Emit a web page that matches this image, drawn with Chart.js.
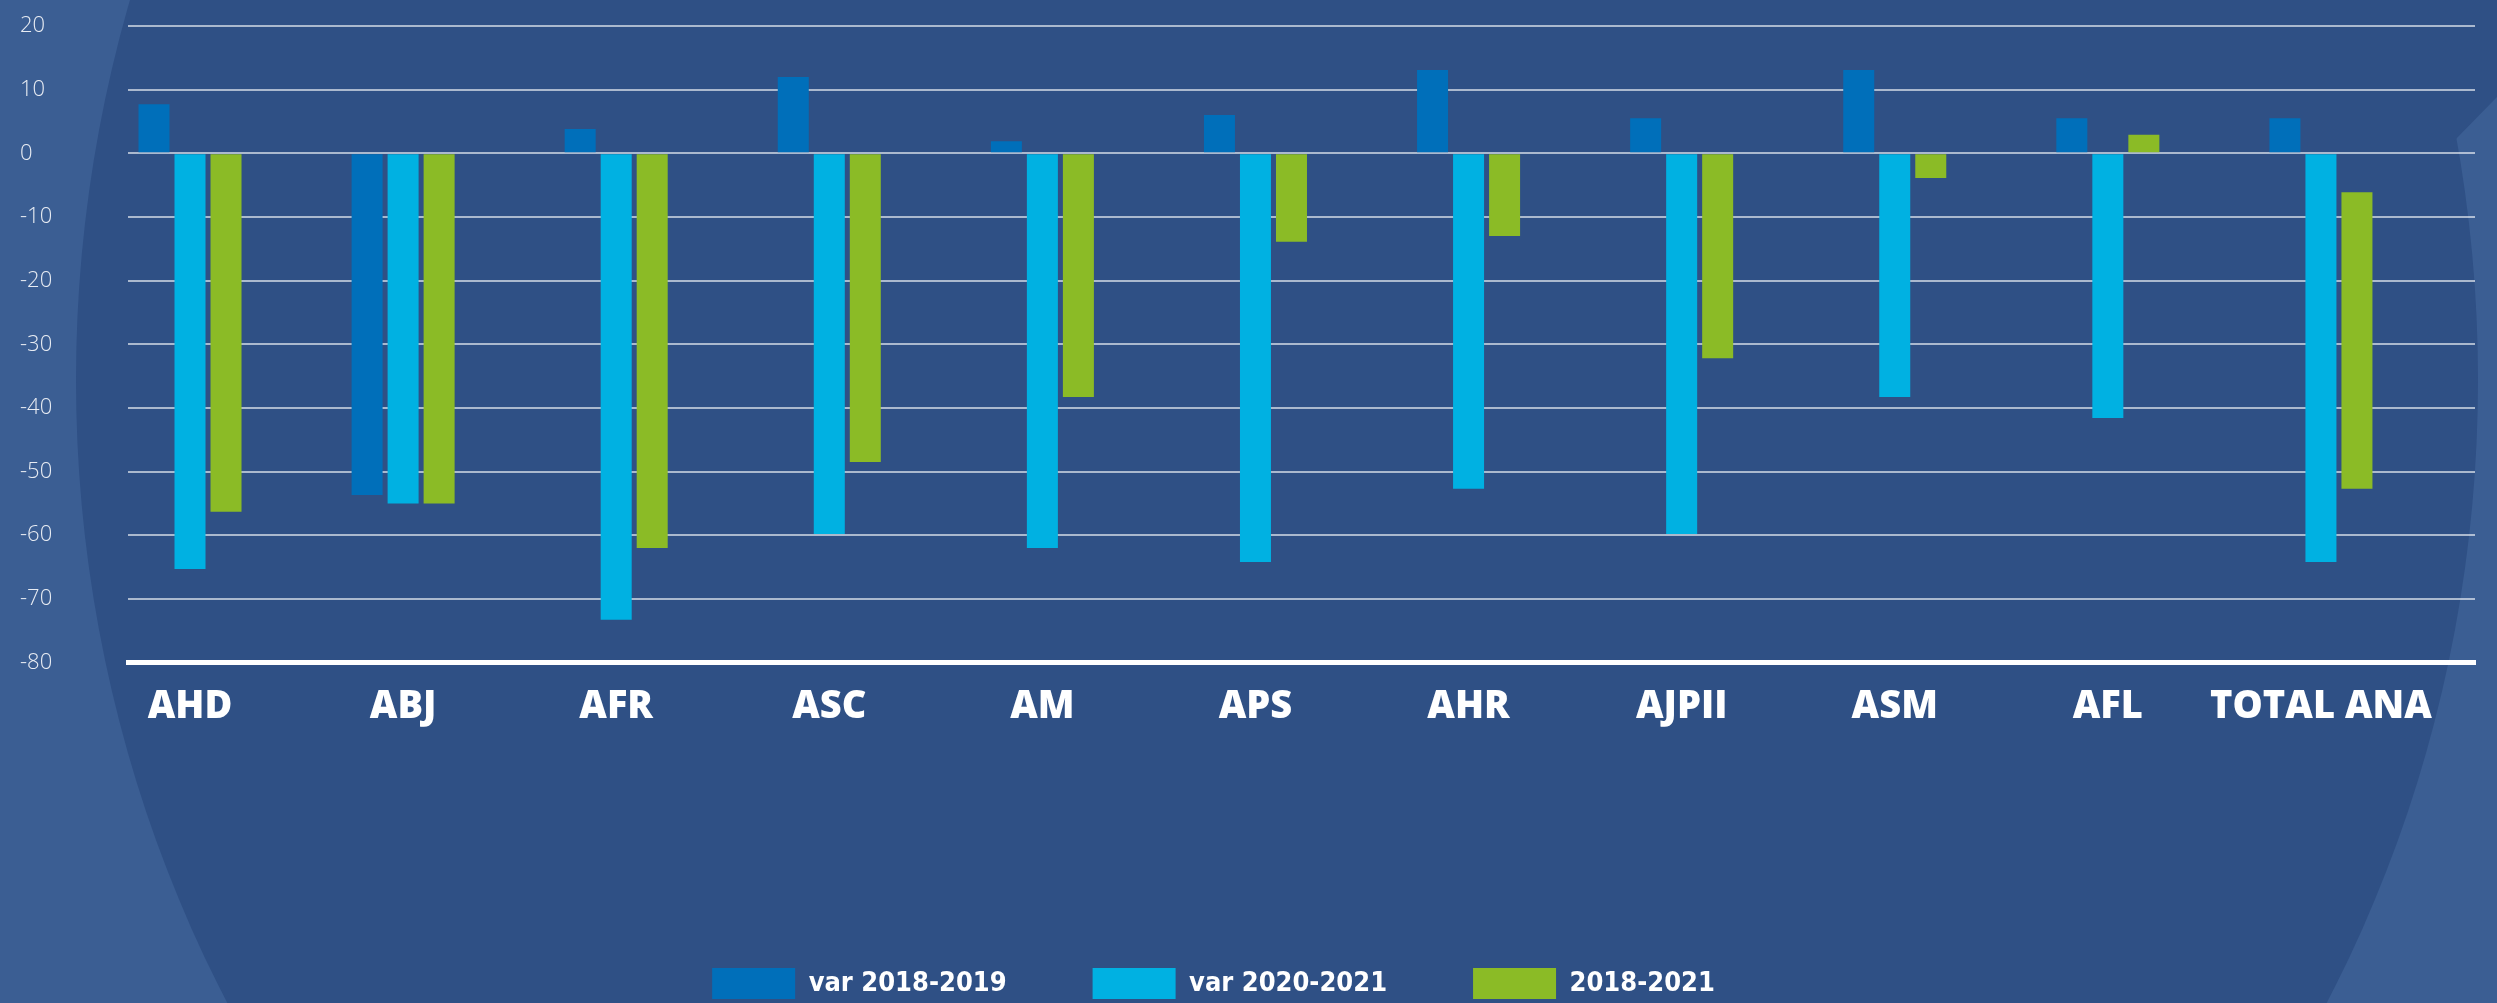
<!DOCTYPE html>
<html>
<head>
<meta charset="utf-8">
<script src="https://cdn.jsdelivr.net/npm/chart.js@4.4.1/dist/chart.umd.min.js"></script>
<style>
html,body{margin:0;padding:0;background:#2f5085;overflow:hidden}
#wrap{width:2497px;height:1003px;position:relative}
canvas{display:block}
</style>
</head>
<body>
<div id="wrap"><canvas id="c" width="2497" height="1003"></canvas></div>
<script>
// ---- data ----
const categories = ['AHD','ABJ','AFR','ASC','AM','APS','AHR','AJPII','ASM','AFL','TOTAL ANA'];
const seriesNames = ['var 2018-2019','var 2020-2021','2018-2021'];
const var2018_2019 = [7.7, -53.7, 3.8, 12.0, 1.9, 6.0, 13.1, 5.5, 13.1, 5.5, 5.5];
const var2020_2021 = [-65.3, -55.0, -73.3, -59.8, -62.0, -64.2, -52.7, -59.8, -38.3, -41.6, -64.2];
const var2018_2021 = [-56.3, -55.0, -62.0, -48.5, -38.3, -13.9, -13.0, -32.2, -3.9, 2.9, [-6.1, -52.7]];
const yTicks = [20, 10, 0, -10, -20, -30, -40, -50, -60, -70, -80];

const toPoints = vals => vals.map((v, i) => ({ x: i, y: v }));

// ---- decorative background ----
const bgPlugin = {
  id: 'bg',
  beforeDraw(chart) {
    const { ctx, width, height } = chart;
    ctx.save();
    ctx.fillStyle = '#3b5e93';
    ctx.fillRect(0, 0, width, height);
    ctx.fillStyle = '#2f5085';
    ctx.beginPath();
    ctx.ellipse(1277, 380, 1201, 1282, 0, 0, Math.PI * 2);
    ctx.fill();
    ctx.beginPath();
    ctx.moveTo(2380, 0);
    ctx.lineTo(width, 0);
    ctx.lineTo(width, 97);
    ctx.lineTo(2453, 142);
    ctx.lineTo(2380, 142);
    ctx.closePath();
    ctx.fill();
    ctx.restore();
  }
};

const legendNudge = {
  id: 'legendNudge',
  afterLayout(chart) {
    const lg = chart.legend;
    if (!lg) return;
    lg.left -= 34; lg.right -= 34;
    lg.top += 6; lg.bottom += 6;
  }
};

Chart.defaults.font.family = 'Open Sans';

new Chart(document.getElementById('c'), {
  type: 'bar',
  data: {
    datasets: [
      { label: seriesNames[0], data: toPoints(var2018_2019), backgroundColor: '#006fba', borderWidth: 0 },
      { label: seriesNames[1], data: toPoints(var2020_2021), backgroundColor: '#00b1e2', borderWidth: 0 },
      { label: seriesNames[2], data: toPoints(var2018_2021), backgroundColor: '#8bbb26', borderWidth: 0 }
    ]
  },
  options: {
    responsive: false,
    animation: false,
    devicePixelRatio: 1,
    categoryPercentage: 0.507,
    barPercentage: 0.861,
    layout: { padding: { left: 20, right: 22, top: 26, bottom: 0 } },
    scales: {
      x: {
        type: 'linear',
        bounds: 'data',
        offset: false,
        min: -0.291,
        max: 10.723,
        grid: { display: false, drawTicks: false },
        border: { display: true, color: '#ffffff', width: 5 },
        afterBuildTicks: s => { s.ticks = categories.map((_, i) => ({ value: i })); },
        afterFit: s => { s.height = 213.5; },
        ticks: {
          autoSkip: false, maxRotation: 0, minRotation: 0, padding: 22,
          color: '#ffffff',
          font: { family: 'Open Sans', size: 38, weight: '800' },
          callback: v => categories[v]
        }
      },
      y: {
        bounds: 'data',
        min: Math.min(...yTicks),
        max: Math.max(...yTicks),
        afterBuildTicks: s => { s.ticks = yTicks.map(v => ({ value: v })); },
        afterFit: s => { s.width = 108; },
        grid: { color: 'rgba(255,255,255,0.6)', lineWidth: 2, drawTicks: false },
        border: { display: false },
        ticks: {
          crossAlign: 'far', padding: 0,
          color: '#e8ecf3',
          font: { family: 'Open Sans', size: 22, weight: '300' }
        }
      }
    },
    plugins: {
      legend: {
        position: 'bottom',
        labels: {
          boxWidth: 83, boxHeight: 31, padding: 86,
          color: '#ffffff',
          font: { family: 'DejaVu Sans Condensed', size: 27, weight: 'bold' }
        }
      },
      tooltip: { enabled: false }
    }
  },
  plugins: [bgPlugin, legendNudge]
});
</script>
</body>
</html>
